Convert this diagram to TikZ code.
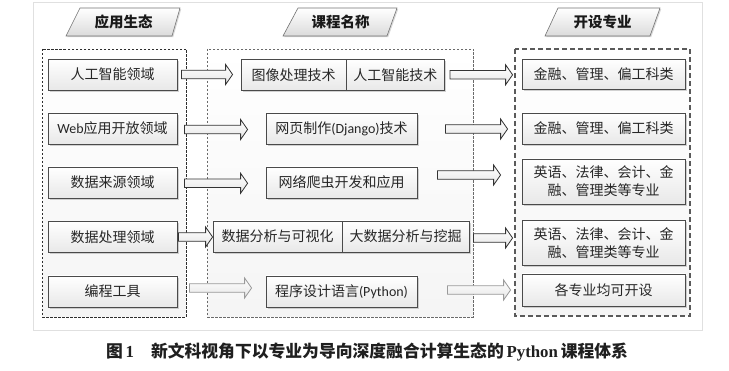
\documentclass[tikz,border=0pt]{standalone}
\usepackage{fontspec}
\setmainfont{Noto Sans CJK SC}
\newfontfamily\carlito{Carlito}
\newfontfamily\capserif{Liberation Serif}
\usetikzlibrary{calc,shadows}
\definecolor{boxline}{HTML}{4A4A4A}
\definecolor{boxtext}{HTML}{262626}
\definecolor{arrdark}{HTML}{333333}
\definecolor{arrlight}{HTML}{9A9A9A}
\definecolor{contdark}{HTML}{2E2E2E}
\definecolor{contmid}{HTML}{6A6A6A}
\definecolor{contright}{HTML}{5A5A5A}
\tikzset{
  box/.style={draw=boxline, line width=0.8pt, top color=white, bottom color=black!9,
    text=boxtext, inner sep=1pt, align=center,
    drop shadow={shadow xshift=1.6pt, shadow yshift=-1.6pt, opacity=0.35},
    font=\fontsize{14}{18}\selectfont},
  headtext/.style={font=\fontsize{14.5}{16}\selectfont\bfseries, text=black!90, inner sep=0pt},
  headpar/.style={draw=black!55, line width=0.6pt, top color=white, bottom color=black!14,
    drop shadow={shadow xshift=1.2pt, shadow yshift=-1.2pt, opacity=0.3}},
  leftcont/.style={draw=contdark, line width=0.8pt, dash pattern=on 2.5pt off 1.5pt,
    top color=white, bottom color=black!4},
  midcont/.style={draw=contmid, line width=0.7pt, dash pattern=on 2.5pt off 1.5pt,
    top color=white, bottom color=black!4},
  rightcont/.style={draw=contright, line width=1.1pt, dash pattern=on 5pt off 3pt,
    top color=white, bottom color=black!4},
  barrow/.style={draw=#1, line width=0.8pt, top color=white, bottom color=black!10,
    to path={let \p1=(\tikztostart), \p2=(\tikztotarget) in
      (\x1,\y1+4.3) -- (\x2-7,\y1+4.3) -- (\x2-7,\y1+10) -- (\x2,\y1)
      -- (\x2-7,\y1-10) -- (\x2-7,\y1-4.3) -- (\x1,\y1-4.3) -- cycle}},
  barrow/.default=arrdark,
}
\begin{document}
\begin{tikzpicture}[x=1pt,y=-1pt]
\useasboundingbox (0,0) rectangle (729,371);
\fill[white] (0,0) rectangle (729,371);
\draw[black!12, line width=0.6pt] (33,2) rectangle (702,330);

% headers
\path[headpar] (80,8) -- (180,8) -- (172,36) -- (66,36) -- cycle;
\path[headpar] (298,8) -- (397,8) -- (387,36) -- (283,36) -- cycle;
\path[headpar] (558,8) -- (660,8) -- (650,36) -- (545,36) -- cycle;
\node[headtext] (T1) at (123.5,22) {应用生态};
\node[headtext] (T2) at (340.5,22) {课程名称};
\node[headtext] (T3) at (602.5,22) {开设专业};

% containers
\path[leftcont] (42,49) rectangle (186,317);
\path[midcont] (207,49) rectangle (473,317);
\path[rightcont] (515,49) rectangle (690,316);

% left column
\node[box, minimum width=129, minimum height=31] (L1) at (112.5,74.5) {人工智能领域};
\node[box, minimum width=129, minimum height=31] (L2) at (112.5,128.5) {{\carlito Web}应用开放领域};
\node[box, minimum width=129, minimum height=31] (L3) at (112.5,182.5) {数据来源领域};
\node[box, minimum width=129, minimum height=31] (L4) at (112.5,237) {数据处理领域};
\node[box, minimum width=129, minimum height=31] (L5) at (112.5,291.5) {编程工具};

% middle column
\node[box, minimum width=105, minimum height=31.5] (M1a) at (293.5,74.8) {图像处理技术};
\node[box, minimum width=98.6, minimum height=31.5] (M1b) at (395.3,74.8) {人工智能技术};
\node[box, minimum width=151, minimum height=31] (M2) at (341.5,128.5) {网页制作{\carlito (Django)}技术};
\node[box, minimum width=151, minimum height=31] (M3) at (341.5,182.5) {网络爬虫开发和应用};
\node[box, minimum width=129, minimum height=31] (M4a) at (277.5,236.5) {数据分析与可视化};
\node[box, minimum width=127, minimum height=31] (M4b) at (405.5,236.5) {大数据分析与挖掘};
\node[box, minimum width=151, minimum height=31] (M5) at (341.5,291.5) {程序设计语言{\carlito (Python)}};

% right column
\node[box, minimum width=163, minimum height=30] (R1) at (603.5,74) {金融、管理、偏工科类};
\node[box, minimum width=163, minimum height=31] (R2) at (603.5,128.5) {金融、管理、偏工科类};
\node[box, minimum width=163, minimum height=45] (R3) at (603.5,181.5) {英语、法律、会计、金\\融、管理类等专业};
\node[box, minimum width=163, minimum height=45] (R4) at (603.5,243) {英语、法律、会计、金\\融、管理类等专业};
\node[box, minimum width=163, minimum height=32] (R5) at (603.5,290) {各专业均可开设};

% arrows left -> middle
\draw[barrow] ($(L1.east)+(4,0)$) to ($(M1a.west)+(-8,0)$);
\draw[barrow] ($(L2.east)+(7,1)$) to ($(M2.west)+(-18,1)$);
\draw[barrow] ($(L3.east)+(7,0.8)$) to ($(M3.west)+(-18,0.8)$);
\draw[barrow] ($(L4.east)+(1,0)$) to ($(M4a.west)+(0,0)$);
\draw[barrow=arrlight] ($(L5.east)+(12,-3.5)$) to ($(M5.west)+(-14,-3.5)$);

% arrows middle -> right
\draw[barrow] ($(M1b.east)+(5,0)$) to ($(R1.west)+(-9,0)$);
\draw[barrow] ($(M2.east)+(28,0.5)$) to ($(R2.west)+(-14,0.5)$);
\draw[barrow] ($(M3.east)+(20,-7.5)$) to ($(R3.west)+(-21,-7.5)$);
\draw[barrow] ($(M4b.east)+(4,1.5)$) to ($(R4.west)+(-9,1.5)$);
\draw[barrow=arrlight] ($(M5.east)+(30,-1.5)$) to ($(R5.west)+(-11,-1.5)$);

% caption
\node[font=\fontsize{16.8}{18}\selectfont\bfseries, text=black!88, inner sep=0pt] (cap) at (367,352)
  {图\,{\capserif 1}\hspace{17pt}新文科视角下以专业为导向深度融合计算生态的\,{\capserif Python}\,课程体系};
\end{tikzpicture}
\end{document}
